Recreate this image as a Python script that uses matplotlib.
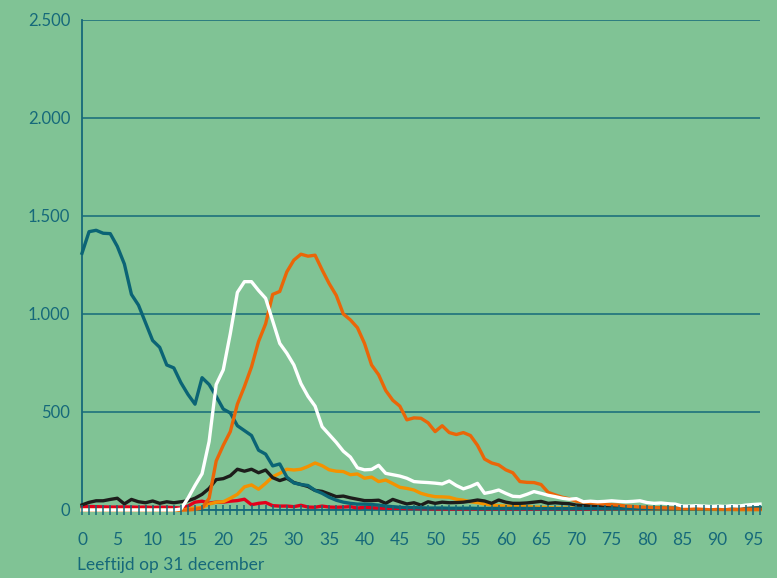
import matplotlib
matplotlib.use('Agg')
import matplotlib.pyplot as plt
from matplotlib.ticker import MultipleLocator, FixedLocator

plt.rcParams['font.family'] = ['Lato', 'DejaVu Sans']

ages = list(range(0, 97))

blauw = [1310, 1420, 1427, 1412, 1410, 1345, 1255, 1100, 1045, 955,
         865, 830, 740, 725, 650, 590, 540, 675, 640, 580,
         515, 495, 430, 405, 380, 305, 285, 225, 235, 168,
         138, 130, 125, 100, 85, 65, 50, 40, 34, 30,
         30, 28, 25, 20, 17, 14, 12, 12, 11, 10,
         10, 10, 9, 9, 9, 9, 8, 8, 8, 8,
         8, 8, 8, 8, 8, 7, 7, 7, 7, 7,
         7, 7, 7, 7, 6, 6, 6, 6, 6, 6,
         6, 6, 6, 6, 6, 6, 6, 6, 6, 7,
         7, 7, 8, 8, 9, 10, 12]

wit = [0, 0, 0, 0, 0, 0, 0, 0, 0, 0,
       0, 0, 0, 0, 5, 60, 125, 185, 350, 640,
       715, 900, 1110, 1165, 1165, 1120, 1080, 965, 850, 800,
       740, 645, 580, 530, 425, 385, 345, 300, 270, 215,
       205, 207, 228, 187, 180, 173, 162, 145, 142, 140,
       137, 133, 148, 125, 108, 120, 136, 85, 92, 102,
       85, 70, 68, 80, 94, 85, 75, 68, 60, 55,
       58, 42, 45, 42, 44, 47, 44, 42, 44, 47,
       38, 34, 36, 32, 30, 20, 20, 22, 20, 18,
       20, 18, 22, 20, 25, 28, 30]

donkeroranje = [0, 0, 0, 0, 0, 0, 0, 0, 0, 0,
                0, 0, 0, 0, 0, 0, 3, 10, 60, 250,
                330, 400, 540, 630, 730, 860, 950, 1100, 1115, 1215,
                1275, 1305, 1295, 1300, 1225, 1155, 1095, 1000, 970, 930,
                850, 740, 690, 610, 560, 530, 460, 470, 468, 445,
                400, 430, 395, 385, 395, 380, 330, 260, 240, 230,
                205, 190, 145, 141, 140, 130, 90, 77, 65, 57,
                45, 40, 36, 34, 30, 27, 25, 20, 18, 15,
                14, 12, 11, 10, 9, 8, 8, 7, 7, 6,
                6, 5, 5, 5, 5, 4, 4]

lichtoranje = [0, 0, 0, 0, 0, 0, 0, 0, 0, 0,
               0, 0, 0, 0, 0, 5, 10, 12, 30, 40,
               42, 60, 80, 118, 128, 106, 136, 170, 187, 208,
               204, 208, 222, 240, 226, 205, 198, 196, 180, 184,
               162, 168, 145, 153, 135, 116, 110, 102, 85, 75,
               68, 67, 65, 55, 50, 42, 38, 30, 25, 22,
               20, 18, 18, 17, 15, 14, 12, 11, 10, 10,
               9, 9, 8, 8, 7, 7, 7, 6, 6, 6,
               5, 5, 5, 5, 4, 4, 4, 4, 3, 3,
               3, 3, 3, 2, 2, 2, 2]

zwart = [26, 39, 47, 47, 54, 60, 31, 54, 42, 37,
         46, 34, 42, 37, 42, 47, 60, 80, 110, 155,
         160, 175, 208, 198, 208, 190, 204, 165, 150, 162,
         140, 130, 120, 100, 95, 82, 68, 71, 62, 55,
         48, 48, 50, 34, 54, 42, 31, 37, 25, 42,
         34, 40, 37, 38, 40, 45, 51, 46, 34, 51,
         40, 34, 34, 36, 40, 44, 34, 37, 34, 32,
         25, 24, 22, 18, 15, 14, 12, 11, 10, 10,
         9, 9, 9, 8, 8, 8, 8, 8, 8, 8,
         8, 8, 8, 8, 8, 8, 8]

rood = [15, 18, 17, 16, 15, 15, 16, 15, 14, 15,
        13, 14, 14, 12, 10, 20, 40, 45, 35, 40,
        40, 45, 48, 55, 27, 34, 38, 22, 20, 20,
        17, 24, 15, 14, 20, 15, 14, 15, 17, 10,
        14, 12, 10, 9, 8, 8, 7, 7, 6, 6,
        5, 5, 5, 5, 5, 5, 5, 5, 5, 5,
        5, 5, 5, 5, 5, 5, 5, 5, 5, 5,
        4, 4, 4, 4, 4, 4, 4, 4, 4, 4,
        4, 4, 4, 4, 4, 4, 4, 4, 4, 4,
        3, 3, 3, 3, 3, 3, 3]

y_ticks = [0, 500, 1000, 1500, 2000, 2500]
y_labels = ['0', '500', '1.000', '1.500', '2.000', '2.500']

bg = '#80c395'
teal = '#16697a'

fig = plt.figure(figsize=(7.77, 5.78), dpi=100, facecolor=bg)
ax = fig.add_axes([82 / 777, 1 - 510 / 578, 678 / 777, 490 / 578])
ax.set_facecolor(bg)

lw = 2.4
ax.plot(ages, rood, color='#e3001b', lw=lw, zorder=3, clip_on=False)
ax.plot(ages, lichtoranje, color='#f39200', lw=lw, zorder=4, clip_on=False)
ax.plot(ages, zwart, color='#1d1d1b', lw=lw, zorder=5, clip_on=False)
ax.plot(ages, blauw, color='#0b6475', lw=lw, zorder=6, clip_on=False)
ax.plot(ages, donkeroranje, color='#ea6608', lw=lw, zorder=7, clip_on=False)
ax.plot(ages, wit, color='#ffffff', lw=lw, zorder=8, clip_on=False)

ax.set_xlim(0, 96)
ax.set_ylim(0, 2500)

ax.yaxis.set_major_locator(FixedLocator(y_ticks))
ax.set_yticklabels(y_labels)
ax.grid(axis='y', color=teal, lw=1.1, zorder=1)
ax.set_axisbelow(True)

ax.xaxis.set_major_locator(MultipleLocator(5))
ax.xaxis.set_minor_locator(MultipleLocator(1))
# tick comb sits on top of the lines
ax.xaxis.set_zorder(9)
ax.set_xlim(0, 96)

for s in ['top', 'right']:
    ax.spines[s].set_visible(False)
for s in ['left', 'bottom']:
    ax.spines[s].set_color(teal)
    ax.spines[s].set_linewidth(1.3)

ax.tick_params(axis='y', length=0, pad=8.5, labelsize=12, labelcolor=teal)
ax.tick_params(axis='x', which='both', direction='inout', length=7.5,
               width=1.1, color=teal)
ax.tick_params(axis='x', which='major', pad=12, labelsize=12.5, labelcolor=teal)

fig.text(77 / 777, 1 - 565 / 578, 'Leeftijd op 31 december', color=teal,
         fontsize=12.5, ha='left', va='center')

fig.savefig('out.png', dpi=100, facecolor=bg)
